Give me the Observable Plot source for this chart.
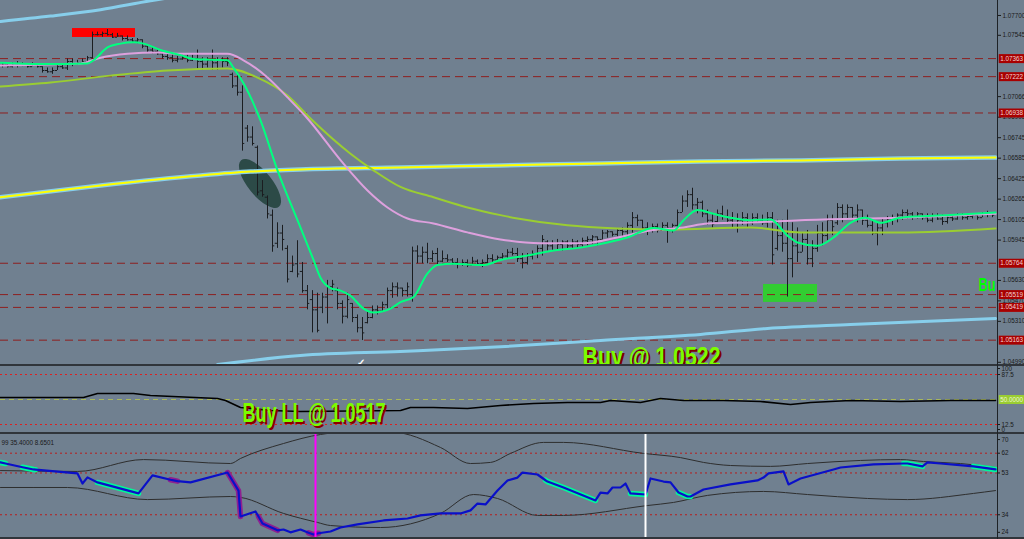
<!DOCTYPE html>
<html><head><meta charset="utf-8">
<script src="https://cdn.jsdelivr.net/npm/d3@7"></script>
<script src="https://cdn.jsdelivr.net/npm/@observablehq/plot@0.6"></script>
<style>
html,body{margin:0;padding:0;background:#708090;}
#chart{position:relative;width:1024px;height:539px;overflow:hidden;background:#708090;}
.panel{position:absolute;left:0;width:1024px;overflow:hidden;}
.sep{position:absolute;left:0;width:1024px;height:2px;background:#30353b;}
.axisline{position:absolute;left:997px;top:0;width:1px;height:539px;background:#1e2226;}
</style></head>
<body>
<div id="chart">
  <div class="panel" id="p1" style="top:0;height:365px"></div>
  <div class="panel" id="p2" style="top:366px;height:66px"></div>
  <div class="panel" id="p3" style="top:434px;height:104px"></div>
  <div class="sep" style="top:364px"></div>
  <div class="sep" style="top:432px"></div>
  <div class="sep" style="top:537px"></div>
  <div class="axisline"></div>
</div>
<script>
// ---------------- DATA ----------------
// bar prices are given in pips above 1.0500 (one bar per index 0..198)
const pipBase = 1.05;
const barHighPips = [233,232,233,234,233,232,233,232,230,229,229,232,232,236,236,235,236,238,
257,257,257,259,256,256,254,254,252,252,
251,246,245,243,241,240,239,238,239,239,239,243,237,237,243,237,237,237,
225,225,215,184,183,168,141,129,
118,108,106,90,82,94,77,59,55,53,
53,63,63,57,47,53,45,36,34,38,43,43,46,57,61,61,57,61,
89,90,89,92,86,88,86,83,80,80,79,79,81,79,79,83,83,82,
84,87,88,88,84,84,86,90,98,94,94,95,94,94,95,94,96,97,98,97,
102,102,101,103,104,108,116,114,110,108,107,107,108,108,107,
118,129,133,135,127,125,118,115,118,121,118,116,115,116,115,115,115,114,116,
116,110,110,118,108,104,100,102,94,106,108,114,114,
123,122,122,120,122,118,114,111,108,111,113,114,115,118,118,116,116,115,115,115,115,114,113,114,115,115,115,115,115,116,117,116];
const barLowPips = [229,229,229,229,230,229,230,229,225,225,224,227,228,227,230,231,232,233,
236,254,253,254,252,253,250,250,249,248,
244,241,240,239,236,235,233,233,235,233,234,227,227,229,227,227,229,230,
213,207,164,171,168,129,128,111,
85,88,86,61,69,65,53,40,22,22,
37,29,54,40,29,33,30,22,16,29,33,36,38,41,49,50,50,50,
46,76,76,76,77,75,77,77,75,72,74,73,75,74,73,76,77,77,
79,80,82,77,72,75,79,80,82,86,86,87,86,87,88,88,89,90,91,90,
94,96,97,97,97,97,100,105,102,98,100,100,102,92,100,
104,116,120,118,115,112,106,104,108,110,108,104,100,106,104,106,108,106,104,
75,86,85,50,65,77,85,75,73,85,90,94,98,
106,108,110,110,108,106,104,98,90,98,104,106,108,110,111,110,111,110,108,108,110,106,107,109,110,110,110,111,110,112,112,112];
const barOpenPips = [231,232,230,232,231,232,230,232,230,227,226,227,230,229,234,232,233,234,
237,255,255,256,255,253,254,252,251,250,
251,246,243,242,240,238,237,235,236,237,235,236,234,232,235,233,235,234,
224,215,210,182,175,167,133,128,
114,92,100,88,70,76,70,55,48,40,
42,50,58,55,45,35,45,34,26,30,34,40,39,44,55,58,57,55,
52,86,82,85,80,84,78,80,79,77,76,77,75,78,76,77,80,79,
81,82,85,84,80,77,82,84,88,93,90,92,91,93,90,93,91,94,95,97,
95,100,101,99,102,101,106,112,110,104,103,105,102,106,104,
106,116,125,130,122,124,115,110,109,115,113,110,108,110,112,108,112,110,108,
112,88,98,92,80,90,85,95,80,88,100,98,110,
108,120,115,120,114,118,110,106,100,104,108,111,112,114,116,115,113,115,112,110,113,111,109,112,111,114,112,113,114,112,115,116];
const barClosePips = [232,230,232,231,232,230,232,230,227,226,227,230,229,234,232,233,234,237,
255,255,256,255,253,254,252,251,250,251,
246,243,242,240,238,237,235,236,237,235,236,234,232,235,233,235,234,233,
215,210,170,175,170,132,130,115,
90,100,95,64,75,68,55,45,40,24,
50,58,60,45,35,48,34,26,22,34,40,39,44,55,58,57,55,58,
86,82,85,80,84,78,80,79,77,76,77,75,78,76,77,80,79,81,
82,85,84,80,77,82,84,88,95,90,92,91,93,90,93,91,94,95,97,95,
100,101,99,102,101,106,112,110,104,103,105,102,106,104,106,
116,125,130,122,124,115,110,107,115,113,110,108,110,112,108,112,110,108,112,
83,98,92,80,90,85,95,80,88,100,98,110,105,
120,115,120,114,118,110,106,100,104,108,111,112,114,116,115,113,115,112,110,113,111,109,112,111,114,112,113,114,112,115,116,114];

// moving averages (bar index, pips above 1.0500)
const greenBars = [-0.4,7.6,17,18.2,21,23.6,26.2,28.2,31.6,35.6,38.2,45,46.2,48.2,51.6,55,59,62.2,63.6,65.6,67.6,69.6,72.2,74.2,77.6,79.6,82.2,85,87,90.2,96.2,99.6,105,109.6,116.2,121,125,130.2,134.2,136.2,139,142.2,145.6,149.6,153.6,157,159,163,166.2,169.6,172.6,175.6,179.6,189.6,198.6];
const greenPips = [233,232,232.5,235,245,248,249,248,243,239,236,235,229,217,188,149,110,79,65,57,55,51,41,38,41,46,50,68.5,75,76,75,79,82.5,86,89,92.6,96.5,104,102,110,118,115,112,110,110.6,98,92.6,90,96.5,108,112,108,112,114,116];
const pinkBars = [-0.4,15.6,19.6,25,31,35.6,45,48.2,53,57,61,67.6,73,77,81,86.2,93,99.6,107.6,116.2,123,129.6,136.2,141,149.6,159.6,179.6,198.6];
const pinkPips = [231,232.5,237,240,241,240,240,235,221.5,206,189.5,157,133.3,120,111.4,107.5,100.5,95,92,92,96.5,102,104.4,107.5,108.3,110,112,115];
const oliveBars = [-0.4,9.6,21.6,33,45,51,57,61.6,69.6,74.2,79.6,86.2,93,99.6,103,113,123,133,149.6,159.6,179.6,198.6];
const olivePips = [214.5,217.6,223,227,228.6,221.5,207.5,189.5,162,149,136,128,120,114,111.4,106,103.6,102.8,104.4,100.5,100.5,103.6];
const yellowBars = [-0.4,19.6,39.6,49.6,59.6,79.6,99.6,119.6,139.6,159.6,179.6,198.6];
const yellowPips = [128,137.2,145,148,149.7,151.2,152.8,154.4,155.9,156.7,158.3,159];
const skyTopBars = [-0.4,9.6,19.6,29.6,39.6];
const skyTopPips = [265.3,269.5,274.5,281.5,287.5];
const skyLowBars = [43,59.6,79.6,99.6,119.6,139.6,153,169.6,198.6];
const skyLowPips = [-2.7,4.3,7.5,11.1,16.1,20.8,25.5,28.6,33.2];

// price axis (labels hidden behind the level boxes are left out)
const priceTicks = [1.077,1.07545,1.07066,1.06905,1.06745,1.06585,1.06425,1.06265,1.06105,1.05945,1.0563,1.0547,1.0531,1.0499];
const levelPrices = [1.07363,1.07222,1.06938,1.05764,1.05519,1.05419,1.05163];
const mainPipRange = [-3.5, 281.7];

// zones and notes
const redZoneBars = [14, 26.6], redZonePips = [252.8, 259.8];
const greenZoneBars = [152.2, 163], greenZonePips = [45.8, 59.8];
const ellipseBar = 51.6, ellipsePips = 138.3;
const mainNoteBars = [116], mainNotePips = [2.6], mainNoteLabels = ["Buy @ 1.0522"];
const sideNoteBars = [195.2], sideNotePips = [59.8], sideNoteLabels = ["Bu"];
const markBars = [71.6], markPips = [-1.2];

// panel 2 (0..100 oscillator)
const stochBars = [-0.4,16.2,19,26.2,29.6,43,44.6,47.6,53.6,59.6,79.6,81.6,86.2,93,99.6,106.2,113,119.6,121.6,127.6,131.6,136.2,144.2,151.6,157.6,161.6,169.6,179.6,189.6,198.6];
const stochVals = [53,53,59,59,56,51.5,48.5,38,33.5,32,33.5,38,38,36.5,41,44,45.5,45.5,48.5,45.5,51.5,48.5,48.5,47,42.5,45.5,48.5,47,48.5,48.5];
const stochLevels = [87.5, 12.5];
const stochMid = [50];
const stochTicks = [100, 87.5, 12.5, 0];
const p2NoteBars = [48], p2NoteVals = [28.5], p2NoteLabels = ["Buy LL @ 1.0517"];

// panel 3 (RSI with bands)
const rsiBars = [-0.4,0.6,4,6.2,6.6,15,16,17,19,27.2,30,33.6,35,37.6,45,47.2,47.6,50.6,51.2,52,55,56.2,57.6,59.6,61.2,62.2,63.2,65.6,67.6,71,76.2,81,83.6,87.6,91.6,93.6,95,96.6,99,101,103,104,107,108.6,109,112.2,118.6,119.6,121,122,123.6,124.6,125.6,128.6,129.6,132.2,133.6,135.2,137,137.6,140.2,145.6,151,152.2,153.2,156.2,157.2,159.6,166.2,167.6,174.2,180.2,181,184,185,187.6,194.2,198.6];
const rsiVals = [57.8,57.3,55.6,54.6,54.5,52.8,48.2,51.0,48.7,43.7,51.9,49.9,49.3,48.7,53.2,45.0,33.2,35.5,33.2,30.0,26.9,27.3,26.0,27.3,25.8,25.0,25.6,26.4,28.2,29.6,31.4,32.3,33.7,34.6,34.6,36.0,39.1,38.7,45.0,49.6,50.9,53.2,52.3,49.7,49.1,46.4,40.5,44.1,43.7,46.4,46.4,48.2,43.7,43.2,50.5,49.1,48.7,44.1,42.3,42.3,45.5,47.8,49.6,50.9,52.8,53.7,47.8,50.5,54.6,55.5,56.9,57.3,57.3,56.0,57.8,57.3,56.0,54.6];
const bandUpBars = [-0.4,15,28.2,45.6,47.6,56.2,63.6,68,78,87.6,93.6,97.6,101.6,108.2,112.2,128.2,135.6,140.2,145.6,153.6,161,171.6,179.6,184.2,191.6,198.6];
const bandUpVals = [54.1,53.7,59.1,57.3,59.6,66.4,70.5,71.5,71.5,64.6,57.3,57.8,61.9,66.9,66.9,61.9,60.0,57.8,56.4,56.0,57.3,58.7,59.1,58.2,57.3,55.5];
const bandLowBars = [-0.4,13,29,45.6,47.6,56.2,63,65.6,75.6,87.6,94.2,99,107,112.2,129,134.2,141,152.2,161,173,181,194.2,198.6];
const bandLowVals = [46.4,46.4,40.9,42.3,41.9,34.6,30.5,29.1,28.2,34.6,43.2,41.4,33.7,33.7,38.2,39.6,42.8,44.6,43.2,41.4,40.9,43.7,45.0];
const aquaSpans = [[-0.4,0.6],[4,6.6],[19,27.2],[108.6,118.6],[125.6,128.6],[135.2,137.6],[180.2,184],[194.2,198.6]];
const purpleSpans = [[33.6,35],[45,47.6],[51.2,55],[61.2,63.2]];
const rsiLevels = [62, 53, 34];
const rsiTicks = [70, 62, 53, 34, 24];
const rsiHeader = ["99 35.4000 8.6501"];
const magentaBars = [62.6];
const whiteBars = [128.6];

// ---------------- BUILD ----------------
const toPrice = p => pipBase + p / 10000;
const bars = barHighPips.map((h, i) => ({
  i, high: toPrice(h), low: toPrice(barLowPips[i]),
  open: toPrice(barOpenPips[i]), close: toPrice(barClosePips[i])
}));
const priceSeries = (xs, ps) => xs.map((x, k) => ({x, y: toPrice(ps[k])}));
const plainSeries = (xs, vs) => xs.map((x, k) => ({x, y: vs[k]}));
const green = priceSeries(greenBars, greenPips);
const pink = priceSeries(pinkBars, pinkPips);
const olive = priceSeries(oliveBars, olivePips);
const yellow = priceSeries(yellowBars, yellowPips);
const skyTop = priceSeries(skyTopBars, skyTopPips);
const skyLow = priceSeries(skyLowBars, skyLowPips);
const zone = (bx, py) => [{x1: bx[0], x2: bx[1], y1: toPrice(py[0]), y2: toPrice(py[1])}];
const mainNotes = priceSeries(mainNoteBars, mainNotePips).map((d, k) => ({...d, label: mainNoteLabels[k]}));
const sideNotes = priceSeries(sideNoteBars, sideNotePips).map((d, k) => ({...d, label: sideNoteLabels[k]}));
const marks = priceSeries(markBars, markPips);
const stoch = plainSeries(stochBars, stochVals);
const p2Notes = plainSeries(p2NoteBars, p2NoteVals).map((d, k) => ({...d, label: p2NoteLabels[k]}));
const rsi = plainSeries(rsiBars, rsiVals);
const bandUp = plainSeries(bandUpBars, bandUpVals);
const bandLow = plainSeries(bandLowBars, bandLowVals);
const spanPts = spans => spans.flatMap((s, k) => rsi.filter(d => d.x >= s[0] && d.x <= s[1]).map(d => ({...d, seg: k})));
const aquaPts = spanPts(aquaSpans);
const purplePts = spanPts(purpleSpans);

const xDomain = [-0.4, 199];
const boxX1 = 199.35, boxX2 = 205;
const baseStyle = {background: "transparent", color: "#1a1a1a", fontFamily: "'Liberation Sans', Arial, sans-serif", fontSize: "6.3px"};
const barColor = "#1b1d20";
const frameCommon = {width: 1024, marginLeft: 0, marginRight: 27, marginTop: 0, marginBottom: 0, style: baseStyle};
const noteFont = {fontFamily: "'Liberation Sans', Arial, sans-serif", fontWeight: "bold", textAnchor: "start"};

const main = Plot.plot({
  ...frameCommon, height: 365,
  x: {domain: xDomain, axis: null},
  y: {domain: mainPipRange.map(toPrice), axis: null},
  marks: [
    Plot.rect(zone(redZoneBars, redZonePips), {x1: "x1", x2: "x2", y1: "y1", y2: "y2", fill: "#ff0000"}),
    Plot.rect(zone(greenZoneBars, greenZonePips), {x1: "x1", x2: "x2", y1: "y1", y2: "y2", fill: "#32cd32"}),
    Plot.ruleY(levelPrices, {stroke: "#8e1f1f", strokeDasharray: "8,5", strokeWidth: 1}),
    Plot.ruleX(bars, {x: "i", y1: "low", y2: "high", stroke: barColor}),
    Plot.ruleY(bars, {y: "open", x1: d => d.i - 0.45, x2: "i", stroke: barColor}),
    Plot.ruleY(bars, {y: "close", x1: "i", x2: d => d.i + 0.45, stroke: barColor}),
    Plot.line(skyTop, {x: "x", y: "y", stroke: "#87ceeb", strokeWidth: 3, curve: "monotone-x", clip: true}),
    Plot.line(skyLow, {x: "x", y: "y", stroke: "#87ceeb", strokeWidth: 3, curve: "monotone-x", clip: true}),
    Plot.line(yellow, {x: "x", y: "y", stroke: "#87ceeb", strokeWidth: 4.5, curve: "monotone-x", clip: true}),
    Plot.line(yellow, {x: "x", y: "y", stroke: "#ffff00", strokeWidth: 2, curve: "monotone-x", clip: true}),
    Plot.line(olive, {x: "x", y: "y", stroke: "#9acd32", strokeWidth: 2, curve: "monotone-x", clip: true}),
    Plot.line(pink, {x: "x", y: "y", stroke: "#dda0dd", strokeWidth: 2, curve: "monotone-x", clip: true}),
    Plot.line(green, {x: "x", y: "y", stroke: "#00ff7f", strokeWidth: 2, curve: "monotone-x", clip: true}),
    Plot.text(marks, {x: "x", y: "y", text: () => "✓", fill: "#ffffff", fontSize: 10, fontWeight: "bold"}),
    Plot.text(mainNotes, {x: "x", y: "y", text: "label", ...noteFont, fontSize: 27, fill: "#7a0000", dx: 2, dy: 1.5}),
    Plot.text(mainNotes, {x: "x", y: "y", text: "label", ...noteFont, fontSize: 27, fill: "#7cfc00"}),
    Plot.text(sideNotes, {x: "x", y: "y", text: "label", ...noteFont, fontSize: 19, fill: "#00ff00", clip: true}),
    Plot.axisY(priceTicks, {anchor: "right", tickSize: 3, tickPadding: 2, tickFormat: d => d.toFixed(5), fontSize: 6.3, label: null}),
    Plot.ruleY(levelPrices, {x1: boxX1, x2: boxX2, stroke: "#a80000", strokeWidth: 9}),
    Plot.text(levelPrices, {x: boxX1, y: d => d, text: d => d.toFixed(5), dx: 1, textAnchor: "start", fill: "#f2d2d2", fontSize: 6.3})
  ]
});

const p2 = Plot.plot({
  ...frameCommon, height: 66,
  x: {domain: xDomain, axis: null},
  y: {domain: [0.5, 99.5], axis: null},
  marks: [
    Plot.ruleY(stochLevels, {stroke: "#e02020", strokeDasharray: "2,3"}),
    Plot.ruleY(stochMid, {stroke: "#a9b85a", strokeDasharray: "5,4"}),
    Plot.line(stoch, {x: "x", y: "y", stroke: "#000000", strokeWidth: 1.6}),
    Plot.text(p2Notes, {x: "x", y: "y", text: "label", ...noteFont, fontSize: 27, fill: "#8a0000", dx: 2, dy: 1.5}),
    Plot.text(p2Notes, {x: "x", y: "y", text: "label", ...noteFont, fontSize: 27, fill: "#7cfc00"}),
    Plot.ruleY(stochTicks, {y: d => Math.max(5, Math.min(96.5, d)), x1: 199, x2: 199.6, stroke: "#1a1a1a"}),
    Plot.text(stochTicks, {x: 199.6, y: d => Math.max(5, Math.min(96.5, d)), text: d => String(d), dx: 1, textAnchor: "start", fill: "#1a1a1a", fontSize: 6.3}),
    Plot.ruleY(stochMid, {x1: boxX1, x2: boxX2, stroke: "#9acd32", strokeWidth: 9}),
    Plot.text(stochMid, {x: boxX1, y: d => d, text: d => d.toFixed(4), dx: 1, textAnchor: "start", fill: "#eef6d8", fontSize: 6.3})
  ]
});

const p3 = Plot.plot({
  ...frameCommon, height: 104,
  x: {domain: xDomain, axis: null},
  y: {domain: [23.2, 70.5], axis: null},
  marks: [
    Plot.ruleY(rsiLevels, {stroke: "#b81c1c", strokeDasharray: "2,3"}),
    Plot.line(bandUp, {x: "x", y: "y", stroke: "#2e2e2e", strokeWidth: 1, curve: "monotone-x", clip: true}),
    Plot.line(bandLow, {x: "x", y: "y", stroke: "#2e2e2e", strokeWidth: 1, curve: "monotone-x", clip: true}),
    Plot.line(aquaPts, {x: "x", y: "y", z: "seg", stroke: "#00fa9a", strokeWidth: 5.5, clip: true}),
    Plot.line(purplePts, {x: "x", y: "y", z: "seg", stroke: "#8e2090", strokeWidth: 5.5, clip: true}),
    Plot.line(rsi, {x: "x", y: "y", stroke: "#0a10c8", strokeWidth: 2.2, clip: true}),
    Plot.ruleX(magentaBars, {stroke: "#ff00ff", strokeWidth: 2}),
    Plot.ruleX(whiteBars, {stroke: "#ffffff", strokeWidth: 2}),
    Plot.text(rsiHeader, {frameAnchor: "top-left", text: d => d, dx: 1, dy: 6, textAnchor: "start", fill: "#1a1a1a", fontSize: 6.3}),
    Plot.ruleY(rsiTicks, {y: d => Math.max(26, Math.min(68.2, d)), x1: 199, x2: 199.6, stroke: "#1a1a1a"}),
    Plot.text(rsiTicks, {x: 199.6, y: d => Math.max(26, Math.min(68.2, d)), text: d => String(d), dx: 1, textAnchor: "start", fill: "#1a1a1a", fontSize: 6.3})
  ]
});

// dark ellipse annotation on the sell-off (under all marks)
{
  const cx = main.scale("x").apply(ellipseBar);
  const cy = main.scale("y").apply(toPrice(ellipsePips));
  d3.select(main).insert("ellipse", "g")
    .attr("cx", cx).attr("cy", cy).attr("rx", 30).attr("ry", 12)
    .attr("transform", `rotate(51 ${cx} ${cy})`)
    .attr("fill", "#2c4a47");
}

// condensed look of the note texts
const textWidths = {"Buy @ 1.0522": 138, "Buy LL @ 1.0517": 143, "Bu": 17};
for (const svg of [main, p2]) {
  d3.select(svg).selectAll("text").each(function () {
    const w = textWidths[this.textContent];
    if (w) { this.setAttribute("textLength", w); this.setAttribute("lengthAdjust", "spacingAndGlyphs"); }
  });
}

document.getElementById("p1").appendChild(main);
document.getElementById("p2").appendChild(p2);
document.getElementById("p3").appendChild(p3);
</script>
</body></html>
